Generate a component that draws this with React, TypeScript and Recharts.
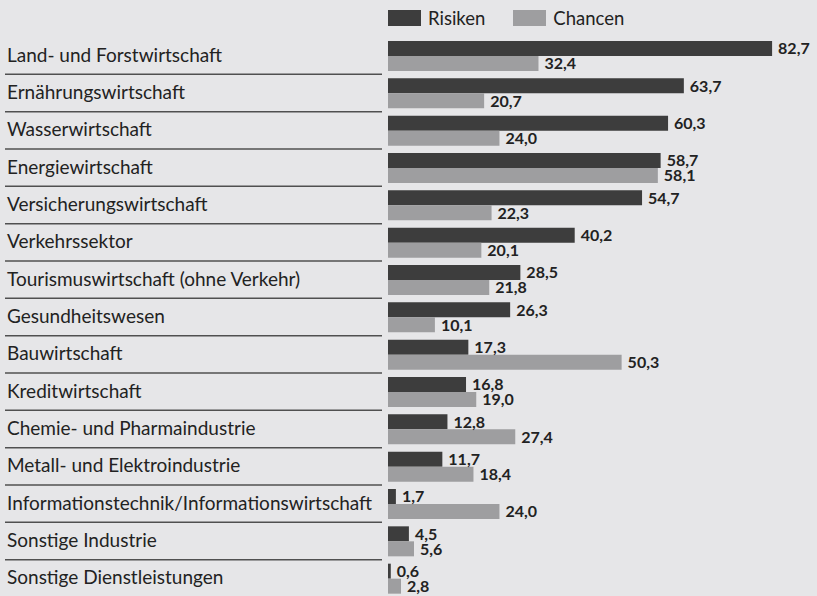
import { Bar, BarChart, LabelList, Legend, XAxis, YAxis } from "recharts";

// Branchen (Kategorien)
const categories = [
  "Land- und Forstwirtschaft",
  "Ernährungswirtschaft",
  "Wasserwirtschaft",
  "Energiewirtschaft",
  "Versicherungswirtschaft",
  "Verkehrssektor",
  "Tourismuswirtschaft (ohne Verkehr)",
  "Gesundheitswesen",
  "Bauwirtschaft",
  "Kreditwirtschaft",
  "Chemie- und Pharmaindustrie",
  "Metall- und Elektroindustrie",
  "Informationstechnik/Informationswirtschaft",
  "Sonstige Industrie",
  "Sonstige Dienstleistungen",
];

const risiken = [82.7, 63.7, 60.3, 58.7, 54.7, 40.2, 28.5, 26.3, 17.3, 16.8, 12.8, 11.7, 1.7, 4.5, 0.6];
const chancen = [32.4, 20.7, 24.0, 58.1, 22.3, 20.1, 21.8, 10.1, 50.3, 19.0, 27.4, 18.4, 24.0, 5.6, 2.8];

const data = categories.map((name, i) => ({ name, risiken: risiken[i], chancen: chancen[i] }));

const DARK = "#3d3d3d";
const LIGHT = "#9e9ea0";
const FONT = "Lato, 'Open Sans', sans-serif";

const fmt = (v: any) => Number(v).toFixed(1).replace(".", ",");

// Beschriftung links mit Trennlinie darunter
function CategoryTick(props: any) {
  const { y, payload, index } = props;
  const half = 37.33 / 2;
  return (
    <g>
      <text x={7} y={y} dy={6} fontSize={19} fill="#222" fontFamily={FONT} textAnchor="start">
        {payload.value}
      </text>
      {index < categories.length - 1 && (
        <line x1={5} x2={382} y1={y + half} y2={y + half} stroke="#505050" strokeWidth={1.5} />
      )}
    </g>
  );
}

function LegendBox() {
  const items = [
    { label: "Risiken", color: DARK },
    { label: "Chancen", color: LIGHT },
  ];
  return (
    <div style={{ display: "flex", alignItems: "center", fontFamily: FONT, fontSize: 18.5, color: "#222" }}>
      {items.map((it) => (
        <div key={it.label} style={{ display: "flex", alignItems: "center", marginRight: 28 }}>
          <span style={{ width: 33, height: 16, background: it.color, display: "inline-block", marginRight: 7 }} />
          <span>{it.label}</span>
        </div>
      ))}
    </div>
  );
}

export default function App() {
  return (
    <div style={{ position: "absolute", left: 0, top: 0, width: 817, height: 596, background: "#e6e6e8", overflow: "hidden" }}>
      <BarChart
        width={817}
        height={597}
        data={data}
        layout="vertical"
        margin={{ top: 37, right: 11, bottom: 0, left: 0 }}
        barSize={15}
        barGap={0}
      >
        <XAxis type="number" domain={[0, 90]} hide />
        <YAxis
          type="category"
          dataKey="name"
          width={388}
          axisLine={false}
          tickLine={false}
          interval={0}
          tick={<CategoryTick />}
        />
        <Legend
          layout="vertical"
          align="center"
          verticalAlign="middle"
          content={<LegendBox />}
          wrapperStyle={{ position: "absolute", top: 7, left: 388, width: 300 }}
        />
        <Bar dataKey="risiken" name="Risiken" fill={DARK} isAnimationActive={false}>
          <LabelList
            dataKey="risiken"
            position="right"
            offset={6}
            formatter={fmt}
            style={{ fontFamily: FONT, fontSize: 16, fontWeight: 700, fill: "#222" }}
          />
        </Bar>
        <Bar dataKey="chancen" name="Chancen" fill={LIGHT} isAnimationActive={false}>
          <LabelList
            dataKey="chancen"
            position="right"
            offset={6}
            formatter={fmt}
            style={{ fontFamily: FONT, fontSize: 16, fontWeight: 700, fill: "#222" }}
          />
        </Bar>
      </BarChart>
    </div>
  );
}
